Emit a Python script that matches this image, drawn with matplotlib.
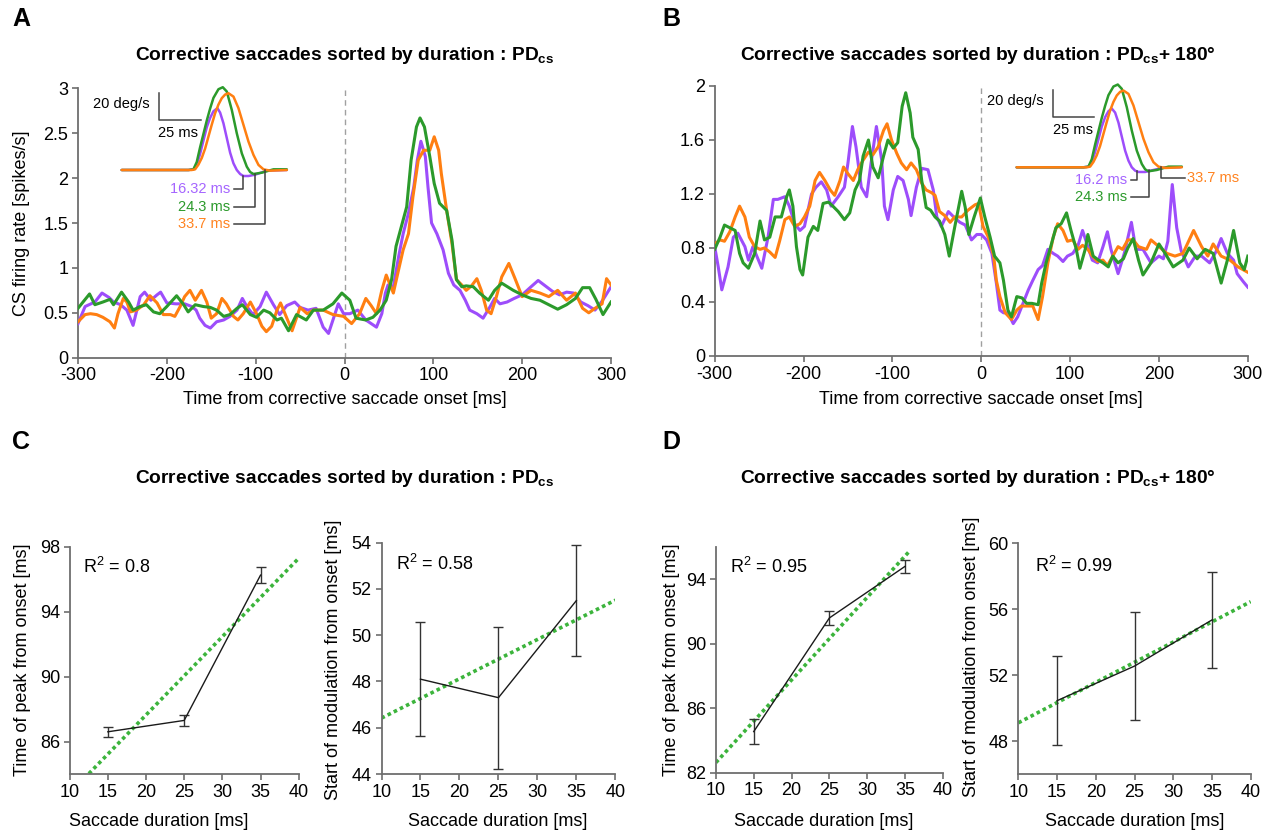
import numpy as np
import matplotlib
matplotlib.use("Agg")
import matplotlib.pyplot as plt

plt.rcParams["font.family"] = ["Liberation Sans", "DejaVu Sans"]
plt.rcParams["mathtext.fontset"] = "custom"
plt.rcParams["mathtext.rm"] = "Liberation Sans"
plt.rcParams["mathtext.it"] = "Liberation Sans:italic"
plt.rcParams["mathtext.bf"] = "Liberation Sans:bold"
plt.rcParams["axes.unicode_minus"] = False

# ---------------------------------------------------------------- data
PURPLE, GREEN, ORANGE = "#9d4dfb", "#2b9a2b", "#ff7f11"

# CS firing rate (spikes/s) vs time from corrective saccade onset (ms), PD_cs
a_short = [(-300,0.38),(-292,0.57),(-281,0.62),(-273,0.72),(-265,0.67),(-260,0.62),(-252,0.59),(-245,0.53),
           (-238,0.36),(-230,0.68),(-225,0.73),(-218,0.64),(-211,0.70),(-207,0.73),(-200,0.61),(-190,0.60),
           (-180,0.60),(-172,0.57),(-167,0.53),(-163,0.44),(-157,0.36),(-151,0.33),(-144,0.40),(-136,0.42),
           (-129,0.46),(-121,0.53),(-115,0.66),(-110,0.57),(-103,0.48),(-95,0.57),(-88,0.73),(-80,0.59),
           (-73,0.48),(-65,0.58),(-56,0.62),(-50,0.56),(-41,0.53),(-32,0.55),(-24,0.34),(-18,0.27),
           (-13,0.42),(-7,0.60),(-1,0.49),(6,0.49),(15,0.53),(24,0.42),(30,0.38),(36,0.34),(42,0.49),
           (46,0.72),(49,0.81),(55,0.79),(61,1.13),(66,1.38),(72,1.61),(78,1.90),(82,2.20),(86,2.41),
           (91,2.24),(94,1.90),(98,1.50),(104,1.38),(111,1.20),(117,0.94),(123,0.81),(130,0.75),(136,0.64),
           (141,0.53),(149,0.49),(156,0.44),(164,0.57),(169,0.66),(175,0.60),(183,0.62),(191,0.66),
           (200,0.70),(210,0.79),(218,0.86),(226,0.80),(234,0.74),(242,0.70),(250,0.73),(258,0.72),
           (266,0.62),(274,0.58),(282,0.53),(290,0.63),(300,0.79)]
a_mid = [(-300,0.55),(-287,0.71),(-281,0.59),(-272,0.62),(-264,0.65),(-260,0.59),(-251,0.73),(-243,0.62),
         (-238,0.53),(-230,0.57),(-223,0.59),(-215,0.51),(-208,0.49),(-200,0.57),(-189,0.69),(-181,0.59),
         (-176,0.51),(-168,0.59),(-159,0.57),(-151,0.56),(-144,0.53),(-136,0.46),(-129,0.48),(-121,0.55),
         (-115,0.59),(-106,0.48),(-99,0.45),(-91,0.53),(-84,0.50),(-76,0.42),(-71,0.44),(-63,0.30),
         (-54,0.48),(-43,0.42),(-35,0.53),(-24,0.53),(-13,0.60),(-3,0.72),(6,0.64),(13,0.44),(24,0.42),
         (32,0.45),(40,0.53),(47,0.64),(53,0.87),(58,1.24),(64,1.46),(70,1.68),(75,2.20),(81,2.57),
         (85,2.67),(90,2.57),(96,2.24),(101,1.94),(107,1.72),(115,1.64),(121,1.31),(126,0.87),(132,0.79),
         (137,0.80),(145,0.79),(152,0.72),(162,0.64),(169,0.75),(177,0.83),(190,0.75),(200,0.70),
         (210,0.66),(220,0.64),(230,0.59),(240,0.54),(250,0.59),(260,0.66),(268,0.78),(276,0.78),
         (283,0.65),(291,0.48),(300,0.62)]
a_long = [(-300,0.40),(-292,0.48),(-286,0.49),(-279,0.48),(-272,0.45),(-264,0.40),(-259,0.33),(-255,0.49),
          (-249,0.66),(-245,0.62),(-241,0.51),(-234,0.53),(-226,0.59),(-219,0.69),(-211,0.61),(-204,0.48),
          (-196,0.48),(-191,0.46),(-185,0.57),(-180,0.68),(-174,0.75),(-168,0.64),(-161,0.75),(-155,0.62),
          (-150,0.44),(-144,0.49),(-138,0.66),(-133,0.60),(-125,0.46),(-120,0.42),(-114,0.49),(-106,0.62),
          (-99,0.49),(-93,0.35),(-88,0.29),(-82,0.35),(-76,0.53),(-72,0.61),(-67,0.49),(-59,0.30),
          (-50,0.56),(-42,0.49),(-35,0.53),(-24,0.53),(-13,0.48),(-1,0.46),(8,0.38),(17,0.49),(24,0.66),
          (30,0.58),(36,0.49),(42,0.75),(47,0.92),(55,0.72),(60,0.94),(66,1.20),(72,1.38),(77,1.79),
          (83,2.20),(89,2.31),(96,2.31),(101,2.46),(106,2.31),(109,2.05),(115,1.64),(121,1.27),(126,0.87),
          (132,0.81),(137,0.75),(143,0.80),(149,0.88),(154,0.75),(160,0.53),(165,0.49),(171,0.68),
          (177,0.90),(185,1.05),(192,0.88),(200,0.68),(210,0.75),(220,0.72),(230,0.68),(240,0.75),
          (250,0.64),(260,0.72),(268,0.55),(275,0.50),(282,0.55),(290,0.60),(295,0.88),(300,0.81)]

# CS firing rate (spikes/s), PD_cs + 180
b_short = [(-300,0.81),(-296,0.66),(-292,0.49),(-285,0.66),(-279,0.88),(-274,0.91),(-266,0.81),(-262,0.71),
           (-257,0.81),(-247,0.65),(-240,0.88),(-234,1.16),(-229,1.16),(-221,1.18),(-216,1.11),(-210,0.98),
           (-204,0.93),(-199,0.96),(-191,1.20),(-186,1.25),(-180,1.29),(-174,1.23),(-169,1.11),(-161,1.18),
           (-154,1.25),(-150,1.43),(-145,1.70),(-141,1.55),(-135,1.25),(-129,1.18),(-124,1.43),(-118,1.70),
           (-112,1.45),(-109,1.11),(-105,1.01),(-99,1.23),(-94,1.33),(-88,1.30),(-82,1.16),(-79,1.04),
           (-73,1.25),(-67,1.39),(-60,1.38),(-54,1.23),(-50,1.03),(-45,0.96),(-37,1.07),(-31,1.03),
           (-24,0.99),(-18,0.97),(-11,0.86),(-5,0.90),(0,0.90),(6,0.86),(12,0.76),(17,0.54),(21,0.34),
           (25,0.32),(30,0.32),(36,0.24),(41,0.29),(47,0.39),(53,0.49),(58,0.56),(64,0.64),(69,0.67),
           (75,0.79),(81,0.76),(86,0.74),(92,0.70),(97,0.74),(103,0.76),(109,0.82),(114,0.93),(120,0.81),
           (125,0.71),(131,0.69),(137,0.81),(142,0.92),(146,0.79),(154,0.61),(161,0.76),(169,0.99),
           (174,0.79),(182,0.79),(191,0.69),(200,0.74),(205,0.72),(210,0.85),(215,1.27),(220,0.95),
           (225,0.78),(233,0.66),(241,0.74),(248,0.74),(257,0.69),(264,0.77),(270,0.87),(277,0.76),
           (284,0.71),(288,0.61),(295,0.55),(300,0.51)]
b_mid = [(-300,0.79),(-294,0.88),(-289,0.97),(-283,0.95),(-277,0.93),(-272,0.76),(-268,0.69),(-262,0.65),
         (-255,0.76),(-249,1.00),(-244,0.86),(-238,0.88),(-232,1.03),(-225,1.03),(-219,1.18),(-216,1.23),
         (-212,1.11),(-208,0.81),(-204,0.64),(-201,0.60),(-195,0.88),(-189,0.96),(-184,0.93),(-178,1.13),
         (-172,1.14),(-167,1.11),(-161,1.07),(-154,1.01),(-148,1.06),(-142,1.23),(-137,1.30),(-133,1.48),
         (-127,1.60),(-122,1.40),(-116,1.32),(-110,1.48),(-105,1.60),(-99,1.54),(-94,1.58),(-89,1.85),
         (-85,1.95),(-80,1.80),(-77,1.62),(-71,1.53),(-67,1.30),(-62,1.10),(-57,1.08),(-52,1.03),
         (-47,1.00),(-41,0.90),(-36,0.74),(-30,0.95),(-22,1.22),(-18,1.10),(-14,0.90),(-8,1.03),(-1,1.17),
         (4,1.03),(10,0.88),(15,0.74),(21,0.69),(25,0.56),(30,0.34),(34,0.29),(40,0.44),(46,0.43),
         (51,0.39),(57,0.39),(64,0.38),(68,0.54),(73,0.69),(79,0.83),(84,0.95),(90,0.98),(96,1.06),
         (101,0.93),(107,0.79),(111,0.65),(117,0.79),(120,0.90),(126,0.74),(132,0.71),(137,0.69),
         (143,0.66),(148,0.74),(154,0.69),(160,0.72),(165,0.80),(171,0.87),(177,0.71),(182,0.60),
         (191,0.69),(200,0.83),(207,0.76),(216,0.66),(227,0.71),(234,0.80),(243,0.72),(252,0.79),
         (261,0.76),(270,0.54),(277,0.71),(284,0.93),(291,0.69),(296,0.64),(300,0.74)]
b_long = [(-300,0.83),(-294,0.86),(-289,0.85),(-283,0.92),(-277,1.03),(-272,1.11),(-266,1.03),(-261,0.88),
          (-255,0.81),(-249,0.79),(-244,0.80),(-238,0.77),(-232,0.73),(-227,0.85),(-221,1.01),(-216,1.03),
          (-210,0.96),(-204,0.98),(-199,1.03),(-193,1.11),(-187,1.30),(-182,1.36),(-176,1.30),(-170,1.23),
          (-165,1.19),(-159,1.30),(-155,1.40),(-150,1.35),(-144,1.30),(-139,1.38),(-133,1.45),(-127,1.51),
          (-122,1.49),(-116,1.55),(-110,1.67),(-106,1.72),(-101,1.60),(-95,1.50),(-90,1.43),(-84,1.38),
          (-79,1.43),(-73,1.38),(-67,1.28),(-62,1.23),(-56,1.21),(-52,1.19),(-47,1.07),(-41,1.04),
          (-35,0.99),(-30,1.03),(-22,1.03),(-15,1.08),(-7,1.12),(-3,1.13),(2,0.96),(8,0.88),(14,0.74),
          (17,0.56),(21,0.44),(27,0.32),(34,0.27),(40,0.34),(45,0.37),(53,0.37),(58,0.37),(64,0.27),
          (69,0.44),(75,0.69),(81,0.88),(86,0.98),(92,0.93),(97,0.85),(103,0.86),(109,0.79),(114,0.82),
          (120,0.79),(125,0.74),(131,0.70),(137,0.71),(142,0.67),(148,0.74),(154,0.81),(159,0.79),
          (165,0.86),(171,0.86),(177,0.81),(186,0.79),(191,0.86),(200,0.81),(209,0.76),(218,0.74),
          (227,0.76),(239,0.93),(248,0.81),(255,0.74),(261,0.83),(270,0.74),(280,0.71),(289,0.66),(300,0.62)]

# Mean eye-velocity profiles (time in ms, velocity in deg/s) for the three duration groups
vel_short = [(0,0),(40,0),(43,0.5),(45,4),(47,12),(49,22),(51,32),(53,39),(55,44),(57.4,46.3),(59,43),
             (61,35),(63,24),(65,13),(67,5),(69,0),(71,-3),(73,-4.5),(76,-4.5),(80,-3.5),(87,-0.5),(99,0)]
vel_mid = [(0,0),(40,0),(43,0.5),(45,6),(47,17),(49,27),(51,37),(53,46),(55,54),(58,60.5),(60.6,62),
           (63,58.8),(66,45),(69,27.5),(72,12.5),(75,2.5),(77,-1.5),(79,-3),(84,-2),(91,0.5),(99,0.5)]
vel_long = [(0,0),(42,0),(44,0.5),(46,4),(48,9),(50,16),(52,25),(54,34),(56,42.5),(58,49),(60,53.8),
            (62,56.5),(64,57.5),(67,55),(70,46.3),(73,33.8),(76,21.3),(79,11.3),(82,3.8),(85,0.5),
            (89,-0.5),(99,0)]
vel_short_b = [(0,0),(40,0),(43,0.5),(45,4),(47,11.5),(49,21),(51,30.5),(53,37.5),(55,42),(57,44),
               (59,41),(61,33.5),(63,23),(65,12.5),(67,5),(69,0),(71,-2.5),(73,-3.5),(77,-3.5),
               (82,-2),(88,-0.3),(98,0)]
labels_a = ["16.32 ms", "24.3 ms", "33.7 ms"]
labels_b = ["16.2 ms", "24.3 ms", "33.7 ms"]
scale_v, scale_t = 20, 25          # deg/s, ms

# Timing of the CS response vs saccade duration
durations = [15, 25, 35]
c_peak, c_peak_err = [86.6, 87.3, 96.25], [0.3, 0.35, 0.5]
c_start, c_start_err = [48.1, 47.3, 51.5], [2.47, 3.07, 2.42]
d_peak, d_peak_err = [84.55, 91.6, 94.8], [0.77, 0.45, 0.42]
d_start, d_start_err = [50.45, 52.55, 55.35], [2.72, 3.3, 2.93]
r2_labels = ["0.8", "0.58", "0.95", "0.99"]

# ---------------------------------------------------------------- figure
W, H = 1270, 835
fig = plt.figure(figsize=(W / 100, H / 100), dpi=100)


def px_axes(left, top, right, bottom):
    return fig.add_axes([left / W, 1 - bottom / H, (right - left) / W, (bottom - top) / H])


def ftext(x, y, s, **kw):
    fig.text(x / W, 1 - y / H, s, **kw)


def style(ax):
    for s in ("top", "right"):
        ax.spines[s].set_visible(False)
    for s in ("left", "bottom"):
        ax.spines[s].set_color("#6e6e6e")
        ax.spines[s].set_linewidth(1.3)
    ax.tick_params(colors="#6e6e6e", labelcolor="black", labelsize=13,
                   length=4, width=1.2, pad=3)


def split(pairs):
    arr = np.array(pairs, dtype=float)
    return arr[:, 0], arr[:, 1]


TITLE_A = r"Corrective saccades sorted by duration : PD$_{\mathbf{cs}}$"
TITLE_B = r"Corrective saccades sorted by duration : PD$_{\mathbf{cs}}$+ 180°"


def trace_panel(ax, traces, ylim, yticks, yticklabels):
    style(ax)
    ax.axvline(0, color="#a0a0a0", lw=1, ls=(0, (4, 3)), zorder=1)
    for pairs, col in traces:
        t, v = split(pairs)
        ax.plot(t, v, color=col, lw=2.2, solid_joinstyle="round", zorder=3)
    ax.set_xlim(-300, 300)
    ax.set_ylim(*ylim)
    ax.set_xticks([-300, -200, -100, 0, 100, 200, 300])
    ax.set_yticks(yticks)
    ax.set_yticklabels(yticklabels)


# Panel A
axA = px_axes(78, 88.3, 611, 357.7)
trace_panel(axA, [(a_short, PURPLE), (a_long, ORANGE), (a_mid, GREEN)], (0, 3),
            [0, 0.5, 1, 1.5, 2, 2.5, 3], ["0", "0.5", "1", "1.5", "2", "2.5", "3"])
# Panel B
axB = px_axes(714.7, 86, 1247.8, 356)
trace_panel(axB, [(b_short, PURPLE), (b_long, ORANGE), (b_mid, GREEN)], (0, 2),
            [0, 0.4, 0.8, 1.2, 1.6, 2], ["0", "0.4", "0.8", "1.2", "1.6", "2"])

ftext(344.5, 400, "Time from corrective saccade onset [ms]", ha="center", va="center", fontsize=13)
ftext(981, 400, "Time from corrective saccade onset [ms]", ha="center", va="center", fontsize=13)
ftext(22, 223, "CS firing rate [spikes/s]", ha="center", va="center", rotation=90, fontsize=13)

# Velocity-profile insets
PX_MS = 41.7 / 25.0
PX_DPS = 26.7 / 20.0
LABEL_COLS = ["#a565ff", "#2b9a2b", "#ff8320"]


def inset(box, origin, profiles, bar_at, bar_text_t, labels, label_pos, leaders):
    left, top, right, bottom = box
    ox, oy = origin
    ax = px_axes(left, top, right, bottom)
    ax.set_xlim((left - ox) / PX_MS, (right - ox) / PX_MS)
    ax.set_ylim((oy - bottom) / PX_DPS, (oy - top) / PX_DPS)
    ax.axis("off")
    ax.patch.set_alpha(0)
    for pairs, col in zip(profiles, [PURPLE, GREEN, ORANGE]):
        t, v = split(pairs)
        ax.plot(t, v, color=col, lw=1.8, solid_capstyle="round", solid_joinstyle="round")
    bt, bv = bar_at
    ax.plot([bt, bt, bt + scale_t], [bv + scale_v, bv, bv], color="#454545", lw=1.1)
    ax.text(bar_text_t[0], bv + scale_v * 0.58, f"{scale_v} deg/s", ha="right", va="center", fontsize=10.5)
    ax.text(bar_text_t[1], bv - 10, f"{scale_t} ms", ha="left", va="center", fontsize=10.5)
    for lab, col, (lt, lv, ha), (t0, t1, v1) in zip(labels, LABEL_COLS, label_pos, leaders):
        ax.text(lt, lv, lab, color=col, ha=ha, va="center", fontsize=10.5)
        ax.plot([t0, t1, t1], [lv, lv, v1], color="#404040", lw=1.1)


inset((88, 76, 300, 232), (121.7, 170), [vel_short, vel_mid, vel_long],
      (22.4, 37.5), (17, 21.8), labels_a,
      [(65, -14.5, "right"), (65, -27.5, "right"), (65, -40.5, "right")],
      [(67.4, 73, -4.5), (67.4, 80, -3), (67.4, 86, 0)])
inset((985, 76, 1250, 205), (1016.7, 167.3), [vel_short_b, vel_mid, vel_long],
      (21.6, 38), (16.4, 21.8), labels_b,
      [(66.3, -9.5, "right"), (66.3, -22, "right"), (102, -8.3, "left")],
      [(68.7, 72, -3), (68.7, 79.4, -2), (101, 86.6, 0)])


# Timing panels C and D
def timing(ax, vals, errs, ylim, yticks, fit_hi, r2, r2_xy):
    style(ax)
    k, b = np.polyfit(durations, vals, 1)
    xs = np.array([10, fit_hi])
    ax.plot(xs, k * xs + b, color="#3cb43c", lw=2.6, ls=(0, (1, 0.9)), zorder=2)
    ax.errorbar(durations, vals, yerr=errs, color="#1a1a1a", ecolor="#333333", lw=1.0,
                elinewidth=1.0, capsize=3.5, capthick=1.0, zorder=3)
    ax.set_xlim(10, 40)
    ax.set_ylim(*ylim)
    ax.set_xticks([10, 15, 20, 25, 30, 35, 40])
    ax.set_yticks(yticks)
    ax.text(*r2_xy, r"R$^{\mathrm{2}}$ = " + r2, transform=ax.transAxes,
            fontsize=13, ha="left", va="center")


axC1 = px_axes(69.7, 546.7, 298.7, 774)
timing(axC1, c_peak, c_peak_err, (84, 98), [86, 90, 94, 98], 40, r2_labels[0], (0.06, 0.91))
axC2 = px_axes(381.5, 542.7, 615.4, 774)
timing(axC2, c_start, c_start_err, (44, 54), [44, 46, 48, 50, 52, 54], 40, r2_labels[1], (0.06, 0.91))
axD1 = px_axes(715.9, 547, 942.9, 772.7)
timing(axD1, d_peak, d_peak_err, (82, 96), [82, 86, 90, 94], 35.7, r2_labels[2], (0.06, 0.91))
axD2 = px_axes(1018.4, 543.3, 1250.7, 774)
timing(axD2, d_start, d_start_err, (46, 60), [48, 52, 56, 60], 40, r2_labels[3], (0.07, 0.9))

for x in (159, 497.5, 824, 1135):
    ftext(x, 822, "Saccade duration [ms]", ha="center", va="center", fontsize=13)
ftext(22.5, 660, "Time of peak from onset [ms]", ha="center", va="center", rotation=90, fontsize=13)
ftext(334, 660, "Start of modulation from onset [ms]", ha="center", va="center", rotation=90, fontsize=13)
ftext(672, 660, "Time of peak from onset [ms]", ha="center", va="center", rotation=90, fontsize=13)
ftext(971, 657, "Start of modulation from onset [ms]", ha="center", va="center", rotation=90, fontsize=13)

# Titles and panel letters
for x, y, title in ((344.5, 56, TITLE_A), (978, 56, TITLE_B), (344.5, 479, TITLE_A), (978, 479, TITLE_B)):
    ftext(x, y, title, ha="center", va="center", fontsize=13.8, fontweight="bold")
for letter, x, y in (("A", 12, 19), ("B", 662, 19), ("C", 12, 442), ("D", 662, 442)):
    ftext(x, y, letter, ha="left", va="center", fontsize=18, fontweight="bold")

fig.savefig("out.png", dpi=100)
